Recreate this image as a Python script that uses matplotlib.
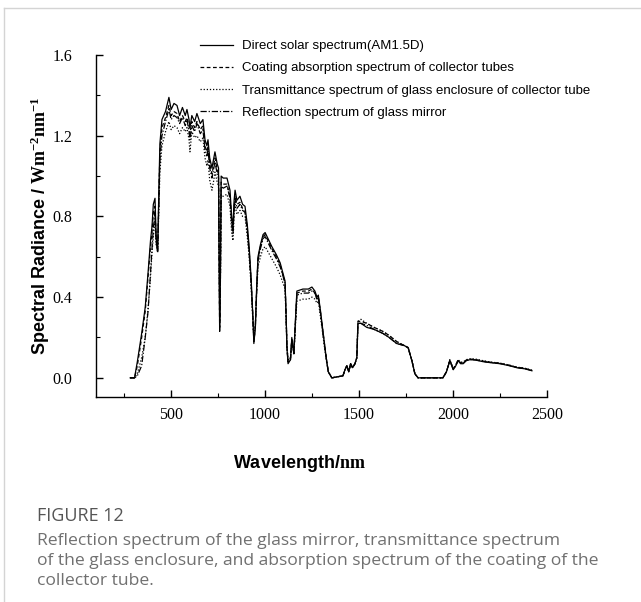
import matplotlib
matplotlib.use("Agg")
import matplotlib.pyplot as plt
from matplotlib.lines import Line2D
from matplotlib.ticker import MultipleLocator

# ── dados ─────────────────────────────────────────────────────────
wavelength = [282, 305, 320, 343, 362, 377, 390, 398, 405, 414,
              420, 428, 435, 440, 451, 470, 488, 500, 515, 531,
              545, 560, 575, 584, 595, 600, 610, 625, 637, 655,
              669, 680, 690, 696, 705, 717, 725, 733, 745, 752,
              758, 762, 766, 777, 797, 813, 822, 829, 835, 840,
              850, 866, 880, 893, 905, 915, 925, 935, 940, 948,
              955, 962, 975, 989, 1000, 1036, 1060, 1080, 1106, 1112,
              1116, 1122, 1135, 1142, 1153, 1162, 1169, 1201, 1230, 1249,
              1265, 1276, 1283, 1295, 1309, 1325, 1336, 1355, 1414, 1425,
              1435, 1445, 1455, 1465, 1478, 1488, 1494, 1510, 1541, 1580,
              1627, 1660, 1700, 1740, 1761, 1781, 1797, 1814, 1946, 1965,
              1983, 2001, 2015, 2027, 2040, 2054, 2070, 2090, 2120, 2160,
              2200, 2250, 2300, 2340, 2380, 2400, 2420]

direct_am15d = [0.00, 0.00, 0.08, 0.22, 0.35, 0.52, 0.68, 0.75, 0.86, 0.89,
                0.70, 0.63, 0.95, 1.16, 1.28, 1.32, 1.39, 1.33, 1.36, 1.35,
                1.30, 1.34, 1.30, 1.33, 1.28, 1.24, 1.30, 1.27, 1.31, 1.26,
                1.28, 1.18, 1.15, 1.18, 1.09, 1.04, 1.08, 1.12, 1.06, 1.04,
                0.23, 0.50, 1.00, 0.99, 0.99, 0.93, 0.80, 0.75, 0.88, 0.93,
                0.88, 0.90, 0.86, 0.85, 0.76, 0.65, 0.50, 0.30, 0.17, 0.25,
                0.45, 0.60, 0.66, 0.71, 0.72, 0.65, 0.61, 0.57, 0.48, 0.30,
                0.15, 0.07, 0.09, 0.20, 0.12, 0.30, 0.43, 0.44, 0.44, 0.45,
                0.43, 0.40, 0.41, 0.33, 0.22, 0.10, 0.03, 0.00, 0.01, 0.04,
                0.06, 0.03, 0.07, 0.05, 0.07, 0.10, 0.27, 0.27, 0.25, 0.24,
                0.22, 0.20, 0.17, 0.16, 0.15, 0.085, 0.02, 0.00, 0.00, 0.03,
                0.085, 0.04, 0.06, 0.085, 0.07, 0.07, 0.085, 0.09, 0.088, 0.08,
                0.075, 0.07, 0.06, 0.05, 0.045, 0.04, 0.035]

coating_abs = [0.00, 0.00, 0.06, 0.20, 0.33, 0.50, 0.65, 0.72, 0.82, 0.85,
               0.68, 0.62, 0.92, 1.12, 1.24, 1.29, 1.35, 1.30, 1.32, 1.31,
               1.27, 1.30, 1.27, 1.29, 1.25, 1.21, 1.27, 1.24, 1.27, 1.23,
               1.25, 1.15, 1.12, 1.15, 1.06, 1.01, 1.05, 1.09, 1.03, 1.01,
               0.25, 0.49, 0.97, 0.96, 0.96, 0.90, 0.78, 0.73, 0.85, 0.90,
               0.86, 0.87, 0.84, 0.83, 0.74, 0.63, 0.49, 0.30, 0.18, 0.26,
               0.44, 0.59, 0.65, 0.70, 0.71, 0.64, 0.60, 0.56, 0.47, 0.30,
               0.16, 0.08, 0.10, 0.19, 0.12, 0.29, 0.42, 0.43, 0.43, 0.44,
               0.42, 0.39, 0.40, 0.32, 0.22, 0.10, 0.03, 0.00, 0.01, 0.04,
               0.06, 0.03, 0.07, 0.05, 0.07, 0.10, 0.28, 0.28, 0.27, 0.25,
               0.23, 0.21, 0.18, 0.16, 0.15, 0.085, 0.02, 0.00, 0.00, 0.03,
               0.088, 0.045, 0.065, 0.088, 0.075, 0.075, 0.088, 0.093, 0.09, 0.083,
               0.077, 0.072, 0.062, 0.052, 0.047, 0.042, 0.037]

glass_trans = [0.00, 0.00, 0.02, 0.10, 0.20, 0.34, 0.50, 0.62, 0.70, 0.78,
               0.66, 0.64, 0.85, 1.02, 1.15, 1.22, 1.27, 1.23, 1.25, 1.24,
               1.21, 1.24, 1.22, 1.24, 1.18, 1.12, 1.22, 1.19, 1.20, 1.17,
               1.19, 1.09, 1.05, 1.08, 0.98, 0.93, 0.97, 1.02, 0.97, 0.95,
               0.30, 0.48, 0.90, 0.90, 0.91, 0.85, 0.72, 0.68, 0.80, 0.86,
               0.81, 0.83, 0.80, 0.80, 0.70, 0.60, 0.46, 0.28, 0.20, 0.26,
               0.42, 0.55, 0.60, 0.64, 0.65, 0.59, 0.55, 0.51, 0.44, 0.28,
               0.16, 0.09, 0.10, 0.18, 0.12, 0.27, 0.38, 0.39, 0.39, 0.40,
               0.39, 0.37, 0.38, 0.30, 0.20, 0.09, 0.03, 0.00, 0.01, 0.04,
               0.06, 0.03, 0.07, 0.05, 0.07, 0.10, 0.28, 0.29, 0.27, 0.25,
               0.23, 0.21, 0.18, 0.16, 0.15, 0.085, 0.02, 0.00, 0.00, 0.03,
               0.09, 0.045, 0.065, 0.09, 0.078, 0.078, 0.09, 0.095, 0.093, 0.085,
               0.078, 0.073, 0.063, 0.053, 0.048, 0.043, 0.038]

mirror_refl = [0.00, 0.00, 0.01, 0.06, 0.20, 0.33, 0.52, 0.64, 0.74, 0.82,
               0.68, 0.62, 0.88, 1.08, 1.20, 1.27, 1.33, 1.28, 1.30, 1.29,
               1.26, 1.29, 1.25, 1.28, 1.22, 1.18, 1.25, 1.22, 1.26, 1.21,
               1.23, 1.13, 1.10, 1.13, 1.04, 0.99, 1.03, 1.07, 1.01, 0.99,
               0.28, 0.48, 0.95, 0.94, 0.95, 0.89, 0.76, 0.71, 0.84, 0.89,
               0.84, 0.86, 0.83, 0.82, 0.73, 0.62, 0.48, 0.29, 0.18, 0.25,
               0.43, 0.58, 0.64, 0.69, 0.70, 0.63, 0.59, 0.55, 0.47, 0.29,
               0.15, 0.08, 0.09, 0.19, 0.12, 0.29, 0.41, 0.42, 0.42, 0.43,
               0.42, 0.39, 0.40, 0.32, 0.21, 0.10, 0.03, 0.00, 0.01, 0.04,
               0.06, 0.03, 0.07, 0.05, 0.07, 0.10, 0.27, 0.27, 0.26, 0.24,
               0.22, 0.20, 0.17, 0.16, 0.15, 0.085, 0.02, 0.00, 0.00, 0.03,
               0.086, 0.042, 0.062, 0.086, 0.072, 0.072, 0.086, 0.091, 0.089, 0.081,
               0.076, 0.071, 0.061, 0.051, 0.046, 0.041, 0.036]

labels = [
    "Direct solar spectrum(AM1.5D)",
    "Coating absorption spectrum of collector tubes",
    "Transmittance spectrum of glass enclosure of collector tube",
    "Reflection spectrum of glass mirror",
]

x_ticks = [500, 1000, 1500, 2000, 2500]
y_ticks = [0.0, 0.4, 0.8, 1.2, 1.6]

caption_title = "FIGURE 12"
caption_lines = [
    "Reflection spectrum of the glass mirror, transmittance spectrum",
    "of the glass enclosure, and absorption spectrum of the coating of the",
    "collector tube.",
]

# ── estilo ─────────────────────────────────────────────────────────
plt.rcParams["mathtext.fontset"] = "custom"
plt.rcParams["mathtext.rm"] = "Liberation Serif"
plt.rcParams["mathtext.bf"] = "Liberation Serif:bold"

W, H = 641, 602
fig = plt.figure(figsize=(W / 100, H / 100), dpi=100)
ax = fig.add_axes([96 / W, 1 - 397 / H, 451 / W, 342 / H])

series = [direct_am15d, coating_abs, glass_trans, mirror_refl]
styles = ["-", (0, (3, 2)), (0, (1, 1.5)), (0, (5, 1.5, 1, 1.5))]
for vals, ls, lab in zip(series, styles, labels):
    ax.plot(wavelength, vals, color="black", lw=0.9, linestyle=ls, label=lab)

ax.set_xlim(100, 2500)
ax.set_ylim(-0.095, 1.6)
ax.set_xticks(x_ticks)
ax.set_yticks(y_ticks)
ax.set_yticklabels([f"{v:.1f}" for v in y_ticks])
ax.xaxis.set_minor_locator(MultipleLocator(250))
ax.yaxis.set_minor_locator(MultipleLocator(0.2))
ax.spines["top"].set_visible(False)
ax.spines["right"].set_visible(False)
for s in ("left", "bottom"):
    ax.spines[s].set_linewidth(1.0)

ax.tick_params(axis="both", which="major", direction="in", length=5, width=1.0,
               labelsize=11.5, colors="black")
ax.tick_params(axis="both", which="minor", direction="in", length=3, width=0.8)
ax.tick_params(axis="x", which="major", pad=7.5)
ax.tick_params(axis="y", which="major", pad=17)
for t in ax.get_xticklabels() + ax.get_yticklabels():
    t.set_family("Liberation Serif")

ax.set_xlabel(r"Wavelength/$\mathbf{nm}$", family="Liberation Sans",
              fontweight="bold", fontsize=13, va="center")
ax.xaxis.set_label_coords((299 - 96) / 451, (397 - 464) / 342)
ax.set_ylabel(r"Spectral Radiance / $\mathbf{Wm^{-2}nm^{-1}}$", family="Liberation Sans",
              fontweight="bold", fontsize=13, va="center")
ax.yaxis.set_label_coords((40 - 96) / 451, 0.5)

leg = ax.legend(loc="upper left", bbox_to_anchor=((200 - 96) / 451, (397 - 40) / 342),
                frameon=False, borderpad=0, borderaxespad=0, handlelength=2.5,
                handletextpad=0.7, labelspacing=0.75,
                prop={"family": "Liberation Sans", "size": 9.5})

# moldura do cartão (só esquerda e topo)
fig.add_artist(Line2D([4 / W, 4 / W], [0, 1 - 8 / H], color="#d4d4d4", lw=1.0))
fig.add_artist(Line2D([4 / W, 1], [1 - 8 / H, 1 - 8 / H], color="#d4d4d4", lw=1.0))

fig.text(37 / W, 1 - 516 / H, caption_title, family="Open Sans", fontsize=13,
         color="#555555", va="center")
for i, line in enumerate(caption_lines):
    fig.text(37 / W, 1 - (541 + 20 * i) / H, line, family="Open Sans",
             fontsize=12.6, color="#707070", va="center")

fig.savefig("out.png", dpi=100)
